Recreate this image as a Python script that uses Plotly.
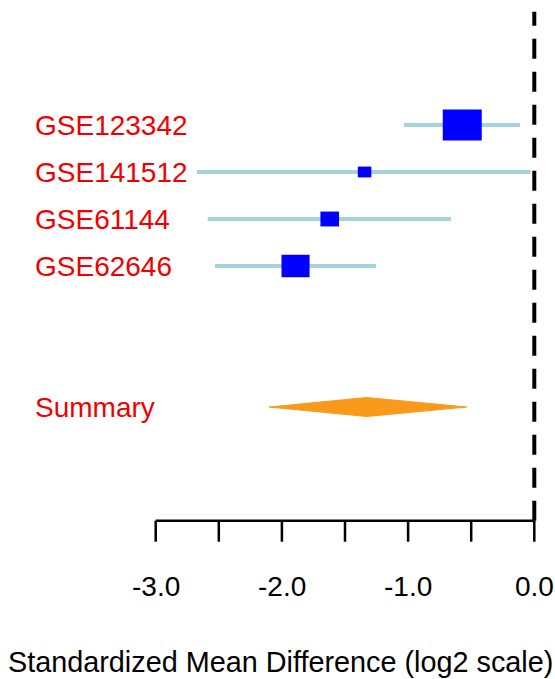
import plotly.graph_objects as go

# ---- data ----
studies = ["GSE123342", "GSE141512", "GSE61144", "GSE62646"]
est = [-0.571, -1.345, -1.621, -1.892]
lower = [-1.032, -2.673, -2.588, -2.530]
upper = [-0.113, -0.030, -0.660, -1.254]
summary_label = "Summary"
summary_est = -1.328
summary_lower = -2.102
summary_upper = -0.536
tick_vals = [-3.0, -2.5, -2.0, -1.5, -1.0, -0.5, 0.0]
tick_labels = ["-3.0", "", "-2.0", "", "-1.0", "", "0.0"]
x_title = "Standardized Mean Difference (log2 scale)"

# ---- layout constants ----
W, H = 555, 679
PX_PER_UNIT = 126.2
X0_PIX = 155.7  # pixel of -3.0
xr0 = -3 - X0_PIX / PX_PER_UNIT
xr1 = xr0 + W / PX_PER_UNIT
ROW0 = 125
ROW_STEP = 47
SUMMARY_ROW = 6
AXIS_Y = 520.7
TICK_LEN = 21
TOP_Y = 11.7
FONT = "Liberation Sans, Arial, sans-serif"
FS = 28
BOX_K = 0.284
BOX_ASPECT = 0.8
CI_COLOR = "#A6D2DC"
BOX_COLOR = "#0000FF"
DIAMOND_COLOR = "#FA9A1A"
LABEL_COLOR = "#F00000"
LABEL_X = 33

fig = go.Figure()
shapes = []
annotations = []

for i, name in enumerate(studies):
    y = ROW0 + ROW_STEP * i
    fig.add_trace(go.Scatter(x=[lower[i], upper[i]], y=[y, y], mode="lines",
                             line=dict(color=CI_COLOR, width=4), hoverinfo="skip"))
    w = BOX_K / (upper[i] - lower[i])
    h = w * PX_PER_UNIT * BOX_ASPECT
    shapes.append(dict(type="rect", xref="x", yref="y",
                       x0=est[i] - w / 2, x1=est[i] + w / 2,
                       y0=y - h / 2, y1=y + h / 2,
                       fillcolor=BOX_COLOR, line=dict(width=0)))
    annotations.append(dict(x=LABEL_X / W, xref="paper", y=y, yref="y", text=name,
                            xanchor="left", yanchor="middle", showarrow=False,
                            font=dict(family=FONT, size=FS, color=LABEL_COLOR)))

ys = ROW0 + ROW_STEP * SUMMARY_ROW
dh = 9.5
fig.add_trace(go.Scatter(
    x=[summary_lower, summary_est, summary_upper, summary_est, summary_lower],
    y=[ys, ys - dh, ys, ys + dh, ys],
    mode="lines", fill="toself", fillcolor=DIAMOND_COLOR,
    line=dict(color=DIAMOND_COLOR, width=1), hoverinfo="skip"))
annotations.append(dict(x=LABEL_X / W, xref="paper", y=ys, yref="y", text=summary_label,
                        xanchor="left", yanchor="middle", showarrow=False,
                        font=dict(family=FONT, size=FS, color=LABEL_COLOR)))

# dashed null line (drawn bottom to top)
shapes.append(dict(type="line", xref="x", yref="y", x0=0, x1=0, y0=AXIS_Y, y1=TOP_Y,
                   line=dict(color="black", width=4, dash="20px,13px")))

# axis
shapes.append(dict(type="line", xref="x", yref="y", x0=tick_vals[0], x1=tick_vals[-1],
                   y0=AXIS_Y, y1=AXIS_Y, line=dict(color="black", width=2.5)))
for tv, tl in zip(tick_vals, tick_labels):
    shapes.append(dict(type="line", xref="x", yref="y", x0=tv, x1=tv,
                       y0=AXIS_Y, y1=AXIS_Y + TICK_LEN, line=dict(color="black", width=2.5)))
    if tl:
        annotations.append(dict(x=tv, xref="x", y=586.5, yref="y", text=tl,
                                xanchor="center", yanchor="middle", showarrow=False,
                                font=dict(family=FONT, size=FS, color="black")))

annotations.append(dict(x=280.5 / W, xref="paper", y=661.5, yref="y", text=x_title,
                        xanchor="center", yanchor="middle", showarrow=False,
                        font=dict(family=FONT, size=28.8, color="black")))

fig.update_layout(
    width=W, height=H, margin=dict(l=0, r=0, t=0, b=0),
    paper_bgcolor="white", plot_bgcolor="white", showlegend=False,
    xaxis=dict(range=[xr0, xr1], visible=False, fixedrange=True),
    yaxis=dict(range=[H, 0], visible=False, fixedrange=True),
    shapes=shapes, annotations=annotations,
)
fig.write_html("out.html", config={"displayModeBar": False},
               post_script="document.body.style.margin='0px';document.body.style.overflow='hidden';")
